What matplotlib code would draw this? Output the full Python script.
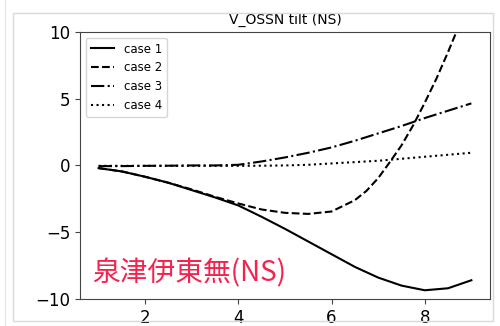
import matplotlib.pyplot as plt
from matplotlib.patches import Rectangle
from matplotlib.lines import Line2D

# tilt vs. position for the four cases
x = [1, 1.5, 2, 2.5, 3, 3.5, 4, 4.5, 5, 5.5, 6, 6.5, 7, 7.5, 8, 8.5, 9]
case1 = [-0.2, -0.45, -0.85, -1.3, -1.85, -2.4, -3.0, -3.85, -4.75, -5.7,
         -6.65, -7.6, -8.4, -9.0, -9.35, -9.2, -8.6]
x2 = [1, 1.5, 2, 2.5, 3, 3.5, 4, 4.5, 5, 5.5, 6, 6.5, 6.75, 7, 7.25, 7.5,
      7.75, 8, 8.25, 8.5, 8.75, 9]
case2 = [-0.2, -0.45, -0.85, -1.3, -1.8, -2.35, -2.85, -3.3, -3.55, -3.63,
         -3.45, -2.6, -1.9, -0.95, 0.25, 1.5, 3.0, 4.7, 6.5, 8.5, 10.6, 12.8]
case3 = [-0.05, -0.05, -0.03, -0.02, 0.0, 0.0, 0.05, 0.3, 0.6, 0.95,
         1.35, 1.85, 2.4, 2.95, 3.55, 4.1, 4.65]
case4 = [-0.03, -0.03, -0.03, -0.03, -0.03, -0.03, -0.03, -0.02, 0.0, 0.05,
         0.15, 0.25, 0.35, 0.5, 0.65, 0.8, 0.95]
labels = ['case 1', 'case 2', 'case 3', 'case 4']
styles = ['-', '--', '-.', ':']

fig = plt.figure(figsize=(5, 3.26), dpi=100)
ax = fig.add_axes([0.16, 0.083, 0.82, 0.819])

for xs, y, lab, ls in zip([x, x2, x, x], [case1, case2, case3, case4], labels, styles):
    ax.plot(xs, y, ls, color='black', lw=1.5, label=lab)

ax.set_xlim(0.6, 9.4)
ax.set_ylim(-10, 10)
ax.set_xticks([2, 4, 6, 8])
ax.set_yticks([-10, -5, 0, 5, 10])
ax.tick_params(labelsize=12, color='#444444')
for s in ax.spines.values():
    s.set_color('#444444')
ax.set_title('V_OSSN tilt (NS)', fontsize=10)
ax.legend(loc='upper left', fontsize=8.5)

ax.text(0.03, 0.095, '泉津伊東無(NS)', transform=ax.transAxes,
        fontsize=20, color='#f5224d', va='center', ha='left',
        family=['Noto Sans CJK JP', 'DejaVu Sans'])

# light frame around the whole figure
fig.patches.append(Rectangle((0.026, 0.015), 0.96, 0.945, transform=fig.transFigure,
                             fill=False, edgecolor='#d9d9d9', lw=1))
fig.lines.append(Line2D([0.01, 0.01], [0, 1], transform=fig.transFigure,
                        color='#e6e6e6', lw=1))

plt.savefig('out.png', dpi=100)
